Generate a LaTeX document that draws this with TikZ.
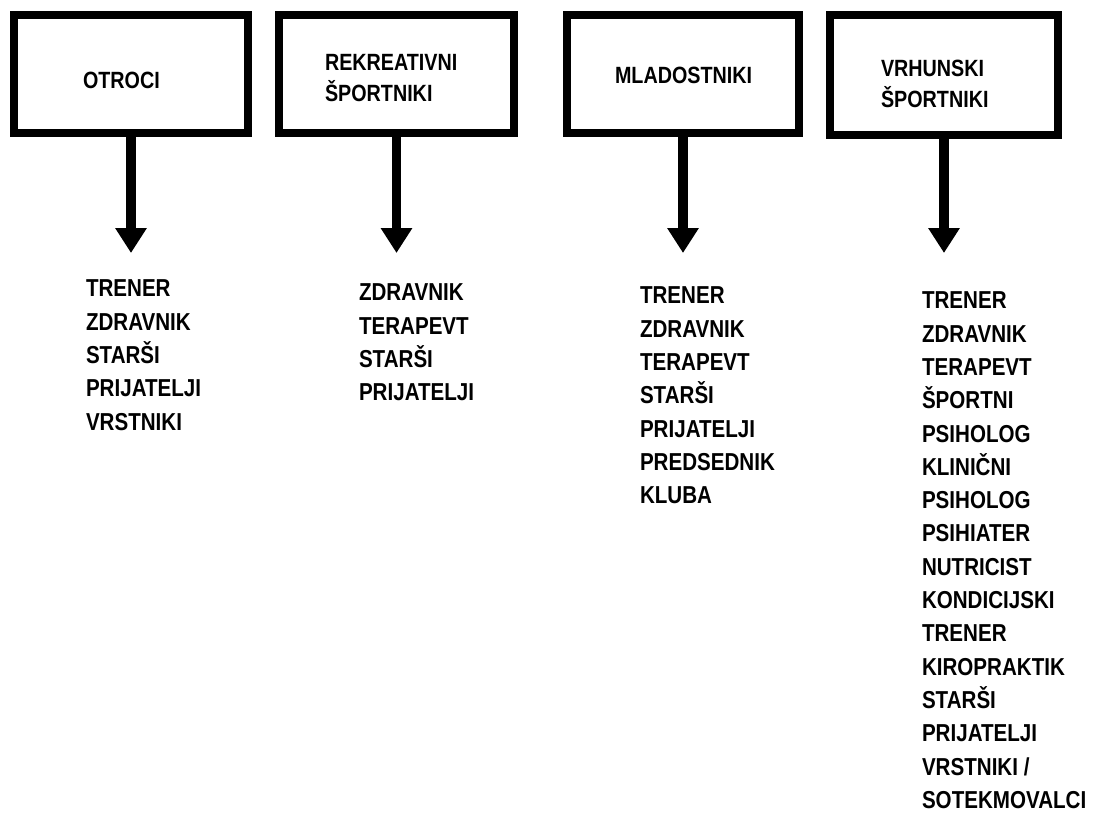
\documentclass[tikz,border=0pt]{standalone}
\usepackage{fontspec}
\newfontfamily\diagfont{Liberation Sans}[FakeStretch=0.84]
\usepackage{tikz}
\usetikzlibrary{arrows.meta}

\begin{document}
\begin{tikzpicture}[x=1pt,y=-1pt,
    groupbox/.style={draw=black,line width=8pt,inner sep=0pt},
    grouptext/.style={anchor=north west,inner sep=0pt,outer sep=0pt,align=left,
      font=\diagfont\bfseries\fontsize{23.5}{31}\selectfont},
    listtext/.style={anchor=north west,inner sep=0pt,outer sep=0pt,align=left,
      font=\diagfont\bfseries\fontsize{24.5}{33.3}\selectfont},
    down/.style={draw=black,line width=9.5pt,-{Triangle[length=25pt,width=30pt]}}]

    \useasboundingbox (0,0) rectangle (1097,813);

    % boxes
    \node[groupbox,minimum width=234pt,minimum height=118pt] (otroci) at (131,74) {};
    \node[groupbox,minimum width=235pt,minimum height=118pt] (rekre) at (396.5,74) {};
    \node[groupbox,minimum width=232pt,minimum height=118pt] (mlad) at (683,74) {};
    \node[groupbox,minimum width=228pt,minimum height=120pt] (vrh) at (944,75) {};

    \node[grouptext] (otrocilab) at (83,72) {OTROCI};
    \node[grouptext] (rekrelab) at (325,54) {REKREATIVNI\\ŠPORTNIKI};
    \node[grouptext] (mladlab) at (615,67) {MLADOSTNIKI};
    \node[grouptext] (vrhlab) at (881,60) {VRHUNSKI\\ŠPORTNIKI};

    % arrows
    \coordinate (otrocitip) at (otroci.south |- 0,253);
    \coordinate (rekretip) at (rekre.south |- 0,253);
    \coordinate (mladtip) at (mlad.south |- 0,253);
    \coordinate (vrhtip) at (vrh.south |- 0,253);
    \draw[down] (otroci.south) -- (otrocitip);
    \draw[down] (rekre.south) -- (rekretip);
    \draw[down] (mlad.south) -- (mladtip);
    \draw[down] (vrh.south) -- (vrhtip);

    % lists
    \node[listtext] (otrocilist) at (86,280) {TRENER\\ZDRAVNIK\\STARŠI\\PRIJATELJI\\VRSTNIKI};
    \node[listtext] (rekrelist) at (359,284) {ZDRAVNIK\\TERAPEVT\\STARŠI\\PRIJATELJI};
    \node[listtext] (mladlist) at (640,287) {TRENER\\ZDRAVNIK\\TERAPEVT\\STARŠI\\PRIJATELJI\\PREDSEDNIK\\KLUBA};
    \node[listtext] (vrhlist) at (922,292) {TRENER\\ZDRAVNIK\\TERAPEVT\\ŠPORTNI\\PSIHOLOG\\KLINIČNI\\PSIHOLOG\\PSIHIATER\\NUTRICIST\\KONDICIJSKI\\TRENER\\KIROPRAKTIK\\STARŠI\\PRIJATELJI\\VRSTNIKI /\\SOTEKMOVALCI};
  \end{tikzpicture}
\end{document}
